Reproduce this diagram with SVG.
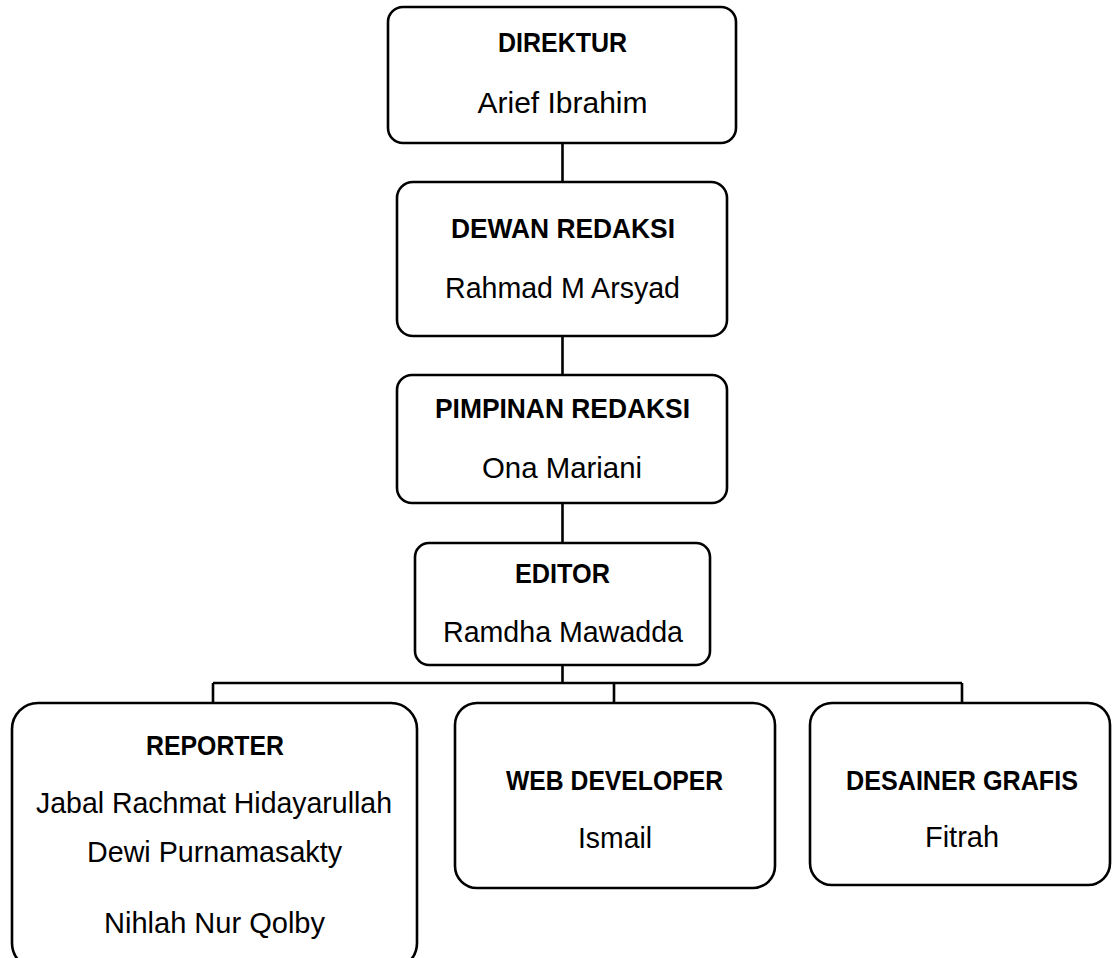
<svg xmlns="http://www.w3.org/2000/svg" width="1114" height="958" viewBox="0 0 1114 958">
<style>
.box{fill:#fff;stroke:#000;stroke-width:2.6}
.ln{fill:none;stroke:#000;stroke-width:2.6}
text{font-family:"Liberation Sans",Arial,sans-serif;font-size:30px;fill:#000;text-anchor:middle}
.t{font-weight:bold;font-size:28px}
</style>
<rect width="1114" height="958" fill="#fff"/>
<g id="connectors">
<path class="ln" d="M562.5 143V182M562.5 336V375M562.5 503V543M562.5 665V683M213 683H962M213 683V703M614 683V703M962 683V703"/>
</g>
<g id="direktur">
<rect class="box" x="388" y="7" width="348" height="136" rx="15"/>
<text class="t" x="562.5" y="52" textLength="129" lengthAdjust="spacingAndGlyphs">DIREKTUR</text>
<text x="562.5" y="113" textLength="170" lengthAdjust="spacingAndGlyphs">Arief Ibrahim</text>
</g>
<g id="dewan">
<rect class="box" x="397" y="182" width="330" height="154" rx="16"/>
<text class="t" x="563" y="238" textLength="224" lengthAdjust="spacingAndGlyphs">DEWAN REDAKSI</text>
<text x="562.5" y="298" textLength="235" lengthAdjust="spacingAndGlyphs">Rahmad M Arsyad</text>
</g>
<g id="pimpinan">
<rect class="box" x="397" y="375" width="330" height="128" rx="15"/>
<text class="t" x="562.5" y="418" textLength="255" lengthAdjust="spacingAndGlyphs">PIMPINAN REDAKSI</text>
<text x="562" y="478" textLength="160" lengthAdjust="spacingAndGlyphs">Ona Mariani</text>
</g>
<g id="editor">
<rect class="box" x="415" y="543" width="295" height="122" rx="14"/>
<text class="t" x="562.5" y="583" textLength="95" lengthAdjust="spacingAndGlyphs">EDITOR</text>
<text x="563" y="642" textLength="240" lengthAdjust="spacingAndGlyphs">Ramdha Mawadda</text>
</g>
<g id="reporter">
<rect class="box" x="12" y="703" width="405" height="266" rx="26"/>
<text class="t" x="215" y="755" textLength="138" lengthAdjust="spacingAndGlyphs">REPORTER</text>
<text x="214" y="813" textLength="356" lengthAdjust="spacingAndGlyphs">Jabal Rachmat Hidayarullah</text>
<text x="214.5" y="862" textLength="255" lengthAdjust="spacingAndGlyphs">Dewi Purnamasakty</text>
<text x="214.5" y="933" textLength="221" lengthAdjust="spacingAndGlyphs">Nihlah Nur Qolby</text>
</g>
<g id="webdev">
<rect class="box" x="455" y="703" width="320" height="185" rx="22"/>
<text class="t" x="614.5" y="790" textLength="217" lengthAdjust="spacingAndGlyphs">WEB DEVELOPER</text>
<text x="615" y="848" textLength="74" lengthAdjust="spacingAndGlyphs">Ismail</text>
</g>
<g id="desainer">
<rect class="box" x="810" y="703" width="300" height="182" rx="22"/>
<text class="t" x="962" y="790" textLength="232" lengthAdjust="spacingAndGlyphs">DESAINER GRAFIS</text>
<text x="962" y="847" textLength="74" lengthAdjust="spacingAndGlyphs">Fitrah</text>
</g>
</svg>
